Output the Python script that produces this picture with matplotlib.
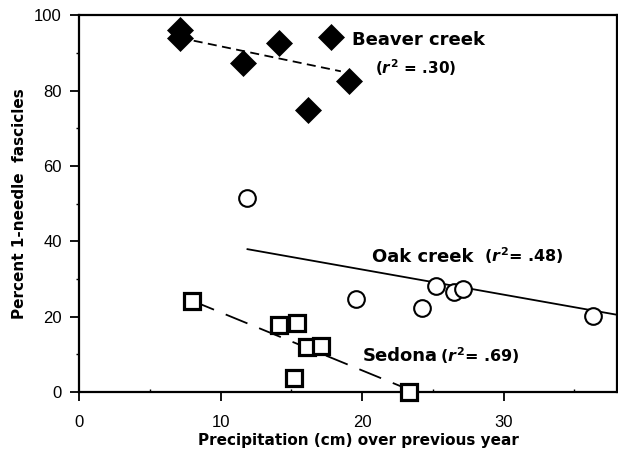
import matplotlib
matplotlib.use('Agg')
import matplotlib.pyplot as plt
import numpy as np

plt.rcParams['font.family'] = ['Liberation Sans', 'DejaVu Sans']
plt.rcParams['mathtext.fontset'] = 'custom'
plt.rcParams['mathtext.it'] = 'DejaVu Sans:italic:bold'
plt.rcParams['mathtext.rm'] = 'DejaVu Sans:bold'
plt.rcParams['mathtext.bf'] = 'DejaVu Sans:bold'

# Beaver creek (filled diamonds)
beaver_x = [7.1, 7.1, 11.6, 14.1, 16.2, 17.8, 19.1]
beaver_y = [96.0, 93.9, 87.3, 92.6, 74.8, 94.2, 82.5]
beaver_fit_x = [7.1, 18.5]
beaver_fit_y = [94.0, 85.1]

# Oak creek (open circles)
oak_x = [11.9, 19.6, 24.2, 25.2, 26.5, 27.1, 36.35]
oak_y = [51.5, 24.8, 22.2, 28.1, 26.6, 27.2, 20.2]
oak_fit_x = [11.9, 38.0]
oak_fit_y = [37.9, 20.5]

# Sedona (open squares)
sedona_x = [8.0, 14.1, 15.4, 15.2, 16.1, 17.1, 23.3]
sedona_y = [24.2, 17.9, 18.4, 3.6, 12.0, 12.3, 0.0]
sedona_fit_x = [8.0, 23.2]
sedona_fit_y = [24.2, 0.8]

bold = dict(family='DejaVu Sans', fontweight='bold')

fig = plt.figure(figsize=(6.18, 4.54), dpi=100)
ax = fig.add_axes([0.128, 0.1366, 0.870, 0.830])

# regression lines
ax.plot(beaver_fit_x, beaver_fit_y, color='black', lw=1.3, dashes=(5, 3))
ax.plot(oak_fit_x, oak_fit_y, color='black', lw=1.3)
ax.plot(sedona_fit_x, sedona_fit_y, color='black', lw=1.3, dashes=(13, 7))

# points
ax.plot(beaver_x, beaver_y, 'D', color='black', ms=13, mec='black', mew=0.5,
        clip_on=False)
ax.plot(oak_x, oak_y, 'o', mfc='white', mec='black', ms=12, mew=1.5,
        clip_on=False)
ax.plot(sedona_x, sedona_y, 's', mfc='white', mec='black', ms=11, mew=2.3,
        clip_on=False, zorder=5)

ax.set_xlim(0, 38)
ax.set_ylim(0, 100)
ax.set_xticks([0, 10, 20, 30])
ax.set_xticks([5, 15, 25, 35], minor=True)
ax.set_yticks([0, 20, 40, 60, 80, 100])
ax.set_yticks([10, 30, 50, 70, 90], minor=True)

for s in ax.spines.values():
    s.set_linewidth(1.6)

ax.tick_params(axis='both', which='major', direction='out', length=6.5,
               width=1.3, labelsize=12, pad=6)
ax.tick_params(axis='x', which='major', pad=10)
ax.tick_params(axis='x', which='minor', direction='in', length=2.5, width=1)
ax.tick_params(axis='y', which='minor', direction='out', length=2.5, width=1)

ax.set_xlabel('Precipitation (cm) over previous year', fontsize=11, **bold)
ax.xaxis.set_label_coords(0.52, -0.108)
ax.set_ylabel('Percent 1-needle  fascicles', fontsize=11, **bold)
ax.yaxis.set_label_coords(-0.096, 0.5)

# annotations
ax.text(19.3, 93.4, 'Beaver creek', fontsize=13, va='center', ha='left', **bold)
ax.text(23.8, 86.2, r'($r^2$ = .30)', fontsize=11, va='center', ha='center',
        **bold)
ax.text(20.7, 35.8, 'Oak creek', fontsize=13, va='center', ha='left', **bold)
ax.text(28.6, 36.3, r'($r^2$= .48)', fontsize=11.5, va='center', ha='left',
        **bold)
ax.text(20.07, 9.5, 'Sedona', fontsize=13, va='center', ha='left', **bold)
ax.text(25.5, 9.7, r'($r^2$= .69)', fontsize=11.5, va='center', ha='left',
        **bold)

fig.savefig('out.png', dpi=100)
